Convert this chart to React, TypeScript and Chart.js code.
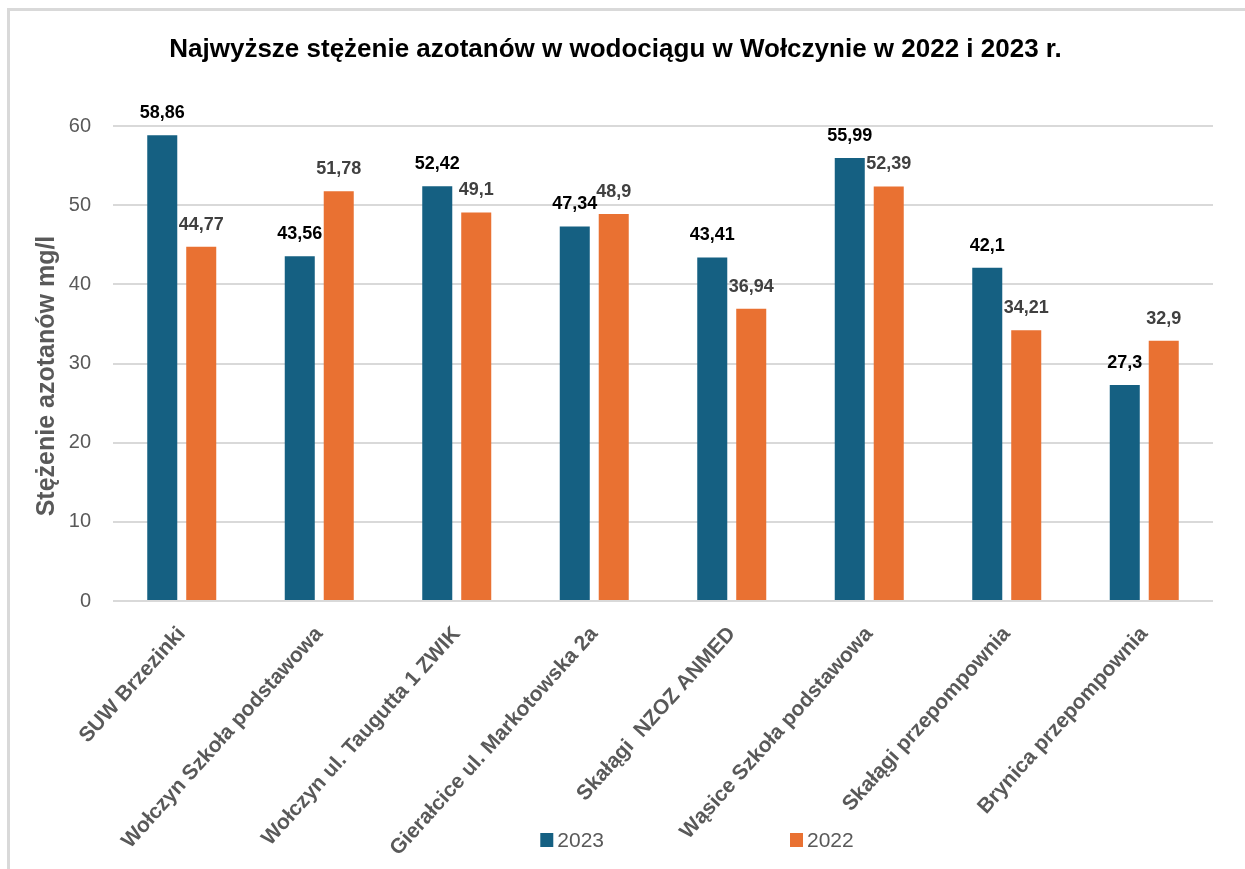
import React, { useEffect, useRef } from 'react';
import { Chart, registerables } from 'chart.js';

Chart.register(...registerables);

const TITLE = 'Najwyższe stężenie azotanów w wodociągu w Wołczynie w 2022 i 2023 r.';
const Y_TITLE = 'Stężenie azotanów mg/l';

const categories = [
  'SUW Brzezinki',
  'Wołczyn Szkoła podstawowa',
  'Wołczyn ul. Taugutta 1 ZWIK',
  'Gierałcice ul. Markotowska 2a',
  'Skałągi  NZOZ ANMED',
  'Wąsice Szkoła podstawowa',
  'Skałągi przepompownia',
  'Brynica przepompownia',
];

const seriesLabels = ['2023', '2022'];
const values2023 = [58.86, 43.56, 52.42, 47.34, 43.41, 55.99, 42.1, 27.3];
const values2022 = [44.77, 51.78, 49.1, 48.9, 36.94, 52.39, 34.21, 32.9];

const yMin = 0;
const yMax = 60;
const yStep = 10;

const COLORS = ['#156082', '#E97132'];
const LABEL_COLORS = ['#000000', '#404040'];
const FONT = '"Liberation Sans", Arial, Helvetica, sans-serif';

const fmt = (v: number) => String(v).replace('.', ',');

const dataLabelPlugin = {
  id: 'dataLabels',
  afterDatasetsDraw(chart: any) {
    const ctx = chart.ctx;
    ctx.save();
    ctx.font = `bold 18px ${FONT}`;
    ctx.textAlign = 'center';
    ctx.textBaseline = 'alphabetic';
    chart.data.datasets.forEach((ds: any, i: number) => {
      const meta = chart.getDatasetMeta(i);
      ctx.fillStyle = LABEL_COLORS[i];
      meta.data.forEach((bar: any, j: number) => {
        ctx.fillText(fmt(ds.data[j]), bar.x, bar.y - 17);
      });
    });
    ctx.restore();
  },
};

const yTitlePlugin = {
  id: 'yTitle',
  afterDraw(chart: any) {
    const ctx = chart.ctx;
    ctx.save();
    ctx.font = `bold 25px ${FONT}`;
    ctx.fillStyle = '#595959';
    ctx.textAlign = 'center';
    ctx.textBaseline = 'middle';
    ctx.translate(47, 376);
    ctx.rotate(-Math.PI / 2);
    ctx.fillText(Y_TITLE, 0, 0);
    ctx.restore();
  },
};

const legendPlugin = {
  id: 'customLegend',
  afterDraw(chart: any) {
    const ctx = chart.ctx;
    ctx.save();
    ctx.font = `21px ${FONT}`;
    ctx.textBaseline = 'middle';
    ctx.textAlign = 'left';
    const box = 13;
    const boxGap = 4;
    const itemGap = 186;
    const cy = 840;
    const items = chart.data.datasets.map((ds: any) => ({
      label: ds.label,
      color: ds.backgroundColor,
      w: box + boxGap + ctx.measureText(ds.label).width,
    }));
    const total = items.reduce((s: number, it: any) => s + it.w, 0) + itemGap * (items.length - 1);
    let x = 697 - total / 2;
    items.forEach((it: any) => {
      ctx.fillStyle = it.color;
      ctx.fillRect(x, cy - 7, box, 14);
      ctx.fillStyle = '#595959';
      ctx.fillText(it.label, x + box + boxGap, cy + 1);
      x += it.w + itemGap;
    });
    ctx.restore();
  },
};

export default function App() {
  const canvasRef = useRef<HTMLCanvasElement | null>(null);

  useEffect(() => {
    if (!canvasRef.current) return;
    const chart = new Chart(canvasRef.current, {
      type: 'bar',
      data: {
        labels: categories,
        datasets: [
          { label: seriesLabels[0], data: values2023, backgroundColor: COLORS[0] },
          { label: seriesLabels[1], data: values2022, backgroundColor: COLORS[1] },
        ],
      },
      options: {
        animation: false,
        responsive: false,
        devicePixelRatio: 1,
        layout: { padding: { left: 18, right: 32, top: 0, bottom: 0 } },
        datasets: {
          bar: { categoryPercentage: 0.567, barPercentage: 0.77 },
        },
        plugins: {
          legend: { display: false },
          tooltip: { enabled: false },
          title: {
            display: true,
            text: TITLE,
            color: '#000000',
            font: { family: FONT, size: 26, weight: 'bold' },
            padding: { top: 34, bottom: 61 },
          },
        },
        scales: {
          x: {
            grid: { display: false },
            border: { display: false },
            ticks: {
              color: '#595959',
              font: { family: FONT, size: 21, weight: 'bold' },
              minRotation: 48,
              maxRotation: 48,
              autoSkip: false,
              padding: 13,
            },
            afterFit: (s: any) => {
              s.height = 268;
            },
          },
          y: {
            min: yMin,
            max: yMax,
            ticks: {
              stepSize: yStep,
              color: '#595959',
              font: { family: FONT, size: 20 },
              padding: 22,
            },
            grid: { color: '#D9D9D9', lineWidth: 2, drawTicks: false },
            border: { display: false },
            title: { display: false },
            afterFit: (s: any) => {
              s.width = 95;
            },
          },
        },
      } as any,
      plugins: [dataLabelPlugin, yTitlePlugin, legendPlugin],
    });
    return () => chart.destroy();
  }, []);

  return (
    <div
      style={{
        position: 'fixed',
        left: 0,
        top: 0,
        width: 1245,
        height: 869,
        background: '#ffffff',
        overflow: 'hidden',
      }}
    >
      <canvas
        ref={canvasRef}
        width={1245}
        height={869}
        style={{ position: 'absolute', left: 0, top: 0, width: 1245, height: 869 }}
      />
      <div
        style={{
          position: 'absolute',
          left: 7,
          top: 8,
          right: -10,
          bottom: -10,
          borderTop: '3px solid #D9D9D9',
          borderLeft: '3px solid #D9D9D9',
          pointerEvents: 'none',
        }}
      />
    </div>
  );
}
